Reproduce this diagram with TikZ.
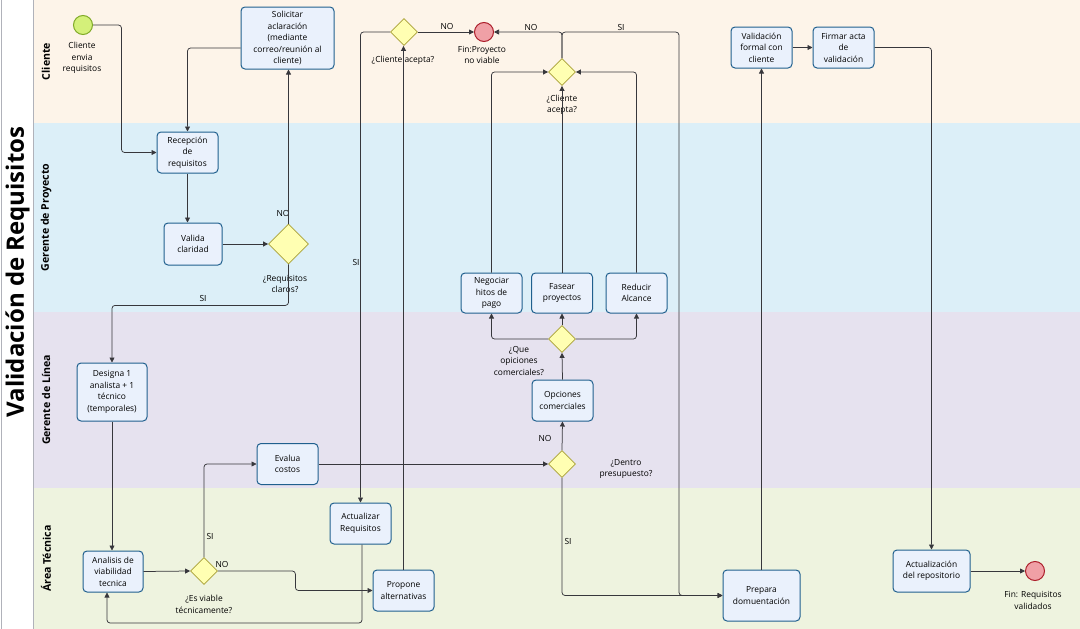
\documentclass[tikz,border=0pt]{standalone}
\usepackage{fontspec}
\setmainfont{Open Sans}
\usetikzlibrary{shapes.geometric,positioning,arrows.meta}
\definecolor{laneA}{RGB}{253,244,233}
\definecolor{laneB}{RGB}{220,239,248}
\definecolor{laneC}{RGB}{230,226,239}
\definecolor{laneD}{RGB}{238,243,223}
\definecolor{laneln}{RGB}{176,178,186}
\definecolor{taskf}{RGB}{234,241,252}
\definecolor{taskb}{RGB}{32,96,142}
\definecolor{gatef}{RGB}{255,255,178}
\definecolor{gateb}{RGB}{168,160,52}
\definecolor{stf}{RGB}{212,240,122}
\definecolor{stb}{RGB}{128,170,40}
\definecolor{endf}{RGB}{240,160,166}
\definecolor{endb}{RGB}{172,30,42}
\definecolor{lineg}{RGB}{55,55,60}

\begin{document}
\begin{tikzpicture}[x=1pt,y=-1pt,
    task/.style={draw=taskb,fill=taskf,rounded corners=4pt,line width=1pt,align=center,inner sep=2pt,
      minimum width=61pt,minimum height=41pt,font=\fontsize{8.4}{11.5}\selectfont},
    gate/.style={diamond,draw=gateb,fill=gatef,line width=0.8pt,inner sep=0pt,minimum size=27pt},
    ev/.style={circle,draw=endb,fill=endf,line width=1pt,inner sep=0pt,minimum size=19pt},
    lbl/.style={align=center,inner sep=1pt,font=\fontsize{8.4}{11.5}\selectfont},
    flow/.style={draw=lineg,line width=0.75pt,rounded corners=3pt,-{Triangle[length=5pt,width=5pt]}}]
    \useasboundingbox (0,0) rectangle (1080,629);
    \fill[white] (0,0) rectangle (33,629);
    % lanes
    \foreach \ya/\yb/\c/\t in {0/123/laneA/Cliente,123/312/laneB/Gerente de Proyecto,
        312/488/laneC/Gerente de Línea,488/629/laneD/Área Técnica} {
        \fill[\c] (33,\ya) rectangle (1080,\yb);
        \draw[laneln] (33,\yb) -- (1080,\yb);
        \node[rotate=90,font=\fontsize{10.6}{12}\bfseries] (ln\ya) at (46,{(\ya+\yb)/2}) {\t};
        }
    \draw[laneln,line width=0.8pt] (33,0) -- (33,629) (1,0) -- (1,629);
    \node[rotate=90,font=\fontsize{24}{28}\bfseries] (ttl) at (17.5,272) {Validación de Requisitos};

    % Cliente / Gerente de Proyecto
    \node[ev,fill=stf,draw=stb] (st) at (83,25) {};
    \node[lbl] (stl) at (82,58) {Cliente\\envia\\requisitos};
    \node[task,minimum width=93pt,minimum height=62pt] (sol) at (287.5,38) {Solicitar\\aclaración\\(mediante\\correo/reunión al\\cliente)};
    \node[task] (rec) at (187.5,152.5) {Recepción\\de\\requisitos};
    \node[task,minimum width=58pt,minimum height=42pt] (val) at (193,244) {Valida\\claridad};
    \node[gate,minimum size=40pt] (dreq) at (288.5,244) {};
    \node[lbl] (dreql) at (285,284) {¿Requisitos\\claros?};

    % Gerente de Linea / Area Tecnica
    \node[task,minimum width=70pt,minimum height=58pt] (des) at (112,392) {Designa 1\\analista + 1\\técnico\\(temporales)};
    \node[task,minimum width=60pt] (ana) at (113,571.5) {Analisis de\\viabilidad\\tecnica};
    \node[gate] (dvia) at (204,571) {};
    \node[lbl] (dvial) at (204,604.5) {¿Es viable\\técnicamente?};
    \node[task] (eva) at (287.5,464) {Evalua\\costos};
    \node[task] (act) at (360.5,523.5) {Actualizar\\Requisitos};
    \node[task] (pro) at (403.5,590.5) {Propone\\alternativas};
    \node[gate] (dcli1) at (404,32) {};
    \node[lbl] (dcli1l) at (403,60) {¿Cliente acepta?};
    \node[ev] (fin1) at (484,32) {};
    \node[lbl] (fin1l) at (482,55) {Fin:Proyecto\\no viable};

    % opciones comerciales
    \node[gate] (ddent) at (562,464) {};
    \node[lbl] (ddentl) at (626,469) {¿Dentro\\presupuesto?};
    \node[task] (opc) at (562.5,400.5) {Opciones\\comerciales};
    \node[gate] (dque) at (562,339) {};
    \node[lbl] (dquel) at (519,361) {¿Que\\opiciones\\comerciales?};
    \node[task,minimum height=40pt] (neg) at (491.5,293) {Negociar\\hitos de\\pago};
    \node[task,minimum height=40pt] (fas) at (562,293) {Fasear\\proyectos};
    \node[task,minimum height=40pt] (red) at (636.5,293) {Reducir\\Alcance};
    \node[gate] (dcli2) at (562,72) {};
    \node[lbl] (dcli2l) at (562,105) {¿Cliente\\acepta?};

    % cierre
    \node[task,minimum width=77pt,minimum height=51pt] (pre) at (761.5,595.5) {Prepara\\domuentación};
    \node[task] (vfo) at (761.5,47.5) {Validación\\formal con\\cliente};
    \node[task] (fir) at (843.5,47.5) {Firmar acta\\de\\validación};
    \node[task,minimum width=77pt,minimum height=42pt] (arep) at (931.5,571) {Actualización\\del repositorio};
    \node[ev] (fin2) at (1035,571) {};
    \node[lbl] (fin2l) at (1033,600.5) {Fin: Requisitos\\validados};

    % etiquetas
    \node[lbl] (noA) at (283,213) {NO};
    \node[lbl] (siA) at (203,298) {SI};
    \node[lbl] (siB) at (210,536) {SI};
    \node[lbl] (noB) at (222,564) {NO};
    \node[lbl] (siC) at (356,262) {SI};
    \node[lbl] (noC) at (447,26) {NO};
    \node[lbl] (noD) at (531,27) {NO};
    \node[lbl] (siD) at (621,27) {SI};
    \node[lbl] (noE) at (545,438) {NO};
    \node[lbl] (siE) at (568,541) {SI};

    % flujos
    \draw[flow] (st.east) -- ++(28.5,0) |- (rec.west);
    \draw[flow] ([yshift=-10pt]sol.west) -| (rec.north);
    \draw[flow] (rec.south) -- (rec.south |- val.north);
    \draw[flow] (val.east) -- (dreq.west);
    \draw[flow] (dreq.north) -- (dreq.north |- sol.south);
    \draw[flow] (dreq.south) -- ++(0,41) -| (des.north);
    \draw[flow] (des.south) -- (des.south |- ana.north);
    \draw[flow] (ana.east) -- (dvia.west);
    \draw[flow] (dvia.north) |- (eva.west);
    \draw[flow] (dvia.east) -- ++(77.5,0) |- (pro.west);
    \draw[flow] (eva.east) -- (ddent.west);
    \draw[flow] (ddent.north) -- (opc.south);
    \draw[flow] (opc.north) -- (dque.south);
    \draw[flow] (dque.west) -| (neg.south);
    \draw[flow] (dque.north) -- (fas.south);
    \draw[flow] (dque.east) -| (red.south);
    \draw[flow] (neg.north) |- (dcli2.west);
    \draw[flow] (fas.north) -- (dcli2.south);
    \draw[flow] (red.north) |- (dcli2.east);
    \draw[flow] (dcli2.north) |- (fin1.east);
    \draw[flow] (dcli2.north) -- ++(0,-26) -- ++(117,0) |- (pre.west);
    \draw[flow] (dcli1.east) -- (fin1.west);
    \draw[flow] (dcli1.west) -| (act.north);
    \draw[flow] (pro.north) -- (pro.north |- dcli1.south);
    \draw[flow] ([xshift=1.5pt]act.south) -- ++(0,78.5) -| ([xshift=-6pt]ana.south);
    \draw[flow] (ddent.south) |- (pre.west);
    \draw[flow] (pre.north) -- (vfo.south);
    \draw[flow] (vfo.east) -- (fir.west);
    \draw[flow] (fir.east) -| (arep.north);
    \draw[flow] (arep.east) -- (fin2.west);
  \end{tikzpicture}
\end{document}
